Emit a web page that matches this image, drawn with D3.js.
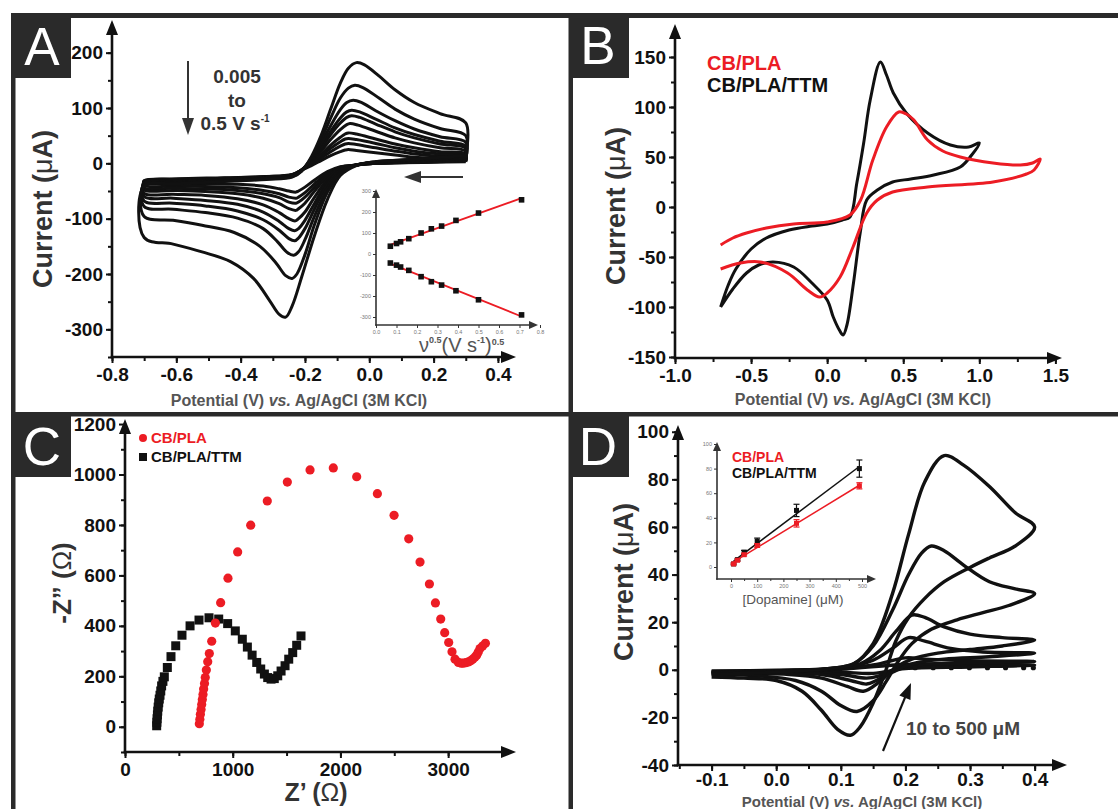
<!DOCTYPE html>
<html><head><meta charset="utf-8">
<script src="https://cdn.jsdelivr.net/npm/d3@7"></script>
<style>
body{margin:0;background:#fff;}
svg{display:block;}
text{font-family:"Liberation Sans",Arial,Helvetica,sans-serif;}
</style></head><body>
<svg id="fig" width="1118" height="809"></svg>
<script>
// ---------------- DATA ----------------
// Panel A: CVs at scan rates (V/s), points [E (V), I (uA)]
const scanRatesA = [0.005,0.01,0.015,0.025,0.05,0.075,0.1,0.15,0.25,0.5];
const cvA005 = [[0.30,3],[0.20,2],[0.10,1],[0.02,0],[-0.04,-3],[-0.09,-6],[-0.13,-15],[-0.17,-30],[-0.20,-43],[-0.22,-50],[-0.228,-52],[-0.25,-50],[-0.28,-46],[-0.33,-41],[-0.41,-38],[-0.51,-37],[-0.61,-36],[-0.70,-36],
 [-0.70,-31],[-0.60,-28],[-0.45,-26],[-0.32,-24],[-0.24,-20],[-0.21,-12],[-0.18,-4],[-0.15,5],[-0.12,14],[-0.09,21],[-0.075,24],[-0.065,25],[-0.04,23],[0.02,19],[0.08,15],[0.14,11],[0.22,9],[0.30,8],[0.30,3]];
const cvA010 = [[0.30,4],[0.20,3],[0.10,1],[0.02,0],[-0.04,-3],[-0.09,-7],[-0.13,-18],[-0.17,-37],[-0.20,-53],[-0.22,-61],[-0.228,-63],[-0.25,-61],[-0.28,-55],[-0.33,-49],[-0.41,-44],[-0.51,-42],[-0.61,-41],[-0.70,-40],
 [-0.70,-32],[-0.60,-29],[-0.45,-27],[-0.32,-24],[-0.24,-21],[-0.21,-12],[-0.18,-2],[-0.15,9],[-0.12,21],[-0.09,31],[-0.075,35],[-0.065,36],[-0.04,34],[0.02,28],[0.08,22],[0.14,17],[0.22,13],[0.30,11],[0.30,4]];
const cvA015 = [[0.30,5],[0.20,3],[0.10,2],[0.02,0],[-0.04,-3],[-0.09,-8],[-0.13,-21],[-0.17,-43],[-0.20,-61],[-0.22,-70],[-0.228,-72],[-0.25,-70],[-0.28,-62],[-0.33,-55],[-0.41,-49],[-0.51,-46],[-0.61,-45],[-0.70,-44],
 [-0.70,-33],[-0.60,-30],[-0.45,-27],[-0.32,-25],[-0.24,-21],[-0.21,-12],[-0.18,0],[-0.15,13],[-0.12,27],[-0.09,39],[-0.075,44],[-0.065,45],[-0.04,43],[0.02,36],[0.08,28],[0.14,22],[0.22,17],[0.30,14],[0.30,5]];
const cvA025 = [[0.30,6],[0.20,4],[0.10,2],[0.02,0],[-0.04,-3],[-0.09,-9],[-0.13,-24],[-0.17,-50],[-0.20,-72],[-0.22,-82],[-0.228,-85],[-0.25,-82],[-0.28,-73],[-0.33,-63],[-0.41,-55],[-0.51,-51],[-0.61,-49],[-0.70,-48],
 [-0.70,-34],[-0.60,-31],[-0.45,-28],[-0.32,-25],[-0.24,-21],[-0.21,-12],[-0.18,1],[-0.15,16],[-0.12,33],[-0.09,47],[-0.075,53],[-0.065,55],[-0.04,53],[0.02,44],[0.08,35],[0.14,28],[0.22,21],[0.30,17],[0.30,6]];
const cvA050 = [[0.30,7],[0.20,5],[0.10,3],[0.02,1],[-0.04,-3],[-0.09,-10],[-0.13,-29],[-0.17,-61],[-0.20,-88],[-0.22,-100],[-0.23,-104],[-0.25,-100],[-0.28,-89],[-0.33,-75],[-0.41,-64],[-0.51,-58],[-0.61,-56],[-0.70,-54],
 [-0.70,-35],[-0.60,-32],[-0.45,-29],[-0.32,-26],[-0.24,-22],[-0.21,-12],[-0.18,3],[-0.15,22],[-0.12,43],[-0.09,61],[-0.07,70],[-0.06,72],[-0.035,69],[0.02,58],[0.08,46],[0.14,37],[0.22,28],[0.30,22],[0.30,7]];
const cvA075 = [[0.30,8],[0.20,6],[0.10,4],[0.02,2],[-0.04,-3],[-0.09,-12],[-0.13,-34],[-0.17,-72],[-0.20,-103],[-0.22,-118],[-0.232,-122],[-0.25,-118],[-0.28,-105],[-0.33,-88],[-0.41,-74],[-0.51,-67],[-0.61,-63],[-0.70,-60],
 [-0.70,-36],[-0.60,-33],[-0.45,-30],[-0.32,-27],[-0.24,-23],[-0.21,-12],[-0.18,5],[-0.15,27],[-0.12,52],[-0.09,73],[-0.07,83],[-0.055,86],[-0.03,83],[0.02,71],[0.08,57],[0.14,46],[0.22,35],[0.30,27],[0.30,8]];
const cvA100 = [[0.30,9],[0.20,7],[0.10,4],[0.02,2],[-0.04,-3],[-0.09,-13],[-0.13,-38],[-0.17,-82],[-0.20,-118],[-0.22,-135],[-0.232,-140],[-0.25,-136],[-0.28,-121],[-0.33,-102],[-0.41,-86],[-0.51,-77],[-0.61,-72],[-0.70,-68],
 [-0.70,-37],[-0.60,-34],[-0.45,-30],[-0.32,-27],[-0.24,-23],[-0.21,-12],[-0.18,6],[-0.15,30],[-0.12,58],[-0.09,82],[-0.07,93],[-0.055,96],[-0.03,93],[0.02,80],[0.08,64],[0.14,52],[0.22,40],[0.30,31],[0.30,9]];
const cvA150 = [[0.30,10],[0.20,8],[0.10,5],[0.02,2],[-0.04,-3],[-0.09,-15],[-0.13,-45],[-0.17,-95],[-0.20,-138],[-0.22,-160],[-0.235,-166],[-0.255,-161],[-0.285,-142],[-0.33,-118],[-0.41,-99],[-0.51,-89],[-0.61,-83],[-0.70,-78],
 [-0.70,-38],[-0.60,-35],[-0.45,-31],[-0.32,-27],[-0.24,-23],[-0.21,-12],[-0.18,8],[-0.15,35],[-0.12,68],[-0.09,97],[-0.07,110],[-0.05,114],[-0.025,110],[0.02,95],[0.08,77],[0.14,62],[0.22,48],[0.30,38],[0.30,10]];
const cvA250 = [[0.30,12],[0.20,9],[0.10,6],[0.02,3],[-0.04,-3],[-0.09,-18],[-0.13,-52],[-0.17,-110],[-0.20,-165],[-0.225,-200],[-0.24,-208],[-0.26,-203],[-0.29,-180],[-0.34,-150],[-0.42,-125],[-0.52,-112],[-0.61,-103],[-0.70,-96],
 [-0.70,-40],[-0.60,-36],[-0.45,-32],[-0.32,-28],[-0.24,-24],[-0.21,-13],[-0.18,10],[-0.15,42],[-0.12,82],[-0.09,118],[-0.065,136],[-0.045,141],[-0.02,137],[0.03,118],[0.08,98],[0.14,80],[0.22,63],[0.30,50],[0.30,12]];
const cvA500 = [[0.30,14],[0.20,10],[0.10,6],[0.02,3],[-0.04,-4],[-0.09,-22],[-0.13,-65],[-0.17,-130],[-0.21,-205],[-0.24,-258],[-0.26,-278],[-0.28,-273],[-0.31,-248],[-0.36,-208],[-0.43,-178],[-0.52,-160],[-0.61,-146],[-0.70,-134],
 [-0.70,-42],[-0.60,-37],[-0.45,-33],[-0.32,-29],[-0.24,-25],[-0.21,-14],[-0.18,12],[-0.15,50],[-0.12,98],[-0.09,145],[-0.065,172],[-0.04,182],[-0.015,178],[0.03,158],[0.08,133],[0.14,110],[0.22,90],[0.30,73],[0.30,14]];
const cvA = [cvA005,cvA010,cvA015,cvA025,cvA050,cvA075,cvA100,cvA150,cvA250,cvA500];

// Panel A inset: peak current vs sqrt(scan rate)
const sqrtScanA = [0.07,0.10,0.12,0.16,0.22,0.27,0.32,0.39,0.50,0.71];
const ipaA = [37,50,58,73,100,120,133,160,195,258];
const ipcA = [-43,-53,-62,-78,-108,-132,-148,-175,-218,-290];

// Panel B: CVs
const cvB_PLA = [[-0.70,-38],[-0.62,-31],[-0.53,-26],[-0.40,-21],[-0.22,-17],[0.0,-15],[0.15,-8],[0.22,7],[0.30,47],[0.39,80],[0.47,95],[0.52,93],[0.57,87],[0.66,67],[0.76,56],[0.875,50],[1.09,44],[1.27,42],[1.35,44],[1.40,48],[1.36,37],[1.31,33],[1.09,25],[0.66,20],[0.43,15],[0.33,7],[0.26,-6],[0.17,-40],[0.085,-70],[0.0,-86],[-0.05,-90],[-0.13,-83],[-0.26,-66],[-0.44,-55],[-0.57,-56],[-0.70,-62]];
const cvB_TTM = [[-0.70,-100],[-0.65,-78],[-0.60,-62],[-0.50,-42],[-0.40,-31],[-0.25,-23],[-0.10,-19],[0.0,-17],[0.10,-13],[0.15,-10],[0.195,24],[0.24,64],[0.283,107],[0.35,145],[0.39,132],[0.435,114],[0.52,94],[0.66,74],[0.81,62],[0.93,60],[1.00,64],[0.95,52],[0.875,40],[0.70,32],[0.55,28],[0.43,25],[0.33,17],[0.26,7],[0.217,-26],[0.173,-76],[0.13,-118],[0.105,-128],[0.08,-123],[0.04,-110],[0.0,-93],[-0.1,-76],[-0.22,-60],[-0.355,-55],[-0.45,-58],[-0.53,-66],[-0.62,-82],[-0.70,-100]];

// Panel C: Nyquist plots [Z' (ohm), -Z'' (ohm)]
const nyqPLA = [[690,12],[695,30],[700,50],[706,68],[712,88],[718,108],[724,128],[730,150],[738,172],[745,195],[755,225],[768,258],[783,290],[805,339],[839,411],[888,492],[956,589],[1046,693],[1167,799],[1321,895],[1507,970],[1718,1018],[1934,1026],[2151,991],[2343,924],[2498,838],[2634,745],[2739,653],[2826,566],[2882,491],[2931,427],[2968,373],[3005,334],[3036,297],[3064,268],[3095,255],[3120,252],[3141,252],[3165,254],[3188,257],[3210,262],[3228,268],[3248,276],[3265,284],[3280,296],[3296,310],[3320,320],[3346,331]];
const nyqTTM = [[294,4],[296,18],[298,32],[301,47],[304,62],[308,78],[313,95],[318,110],[325,125],[332,142],[340,162],[352,180],[365,198],[393,235],[427,278],[471,321],[529,363],[604,400],[687,423],[780,432],[870,427],[953,409],[1024,380],[1089,347],[1136,316],[1180,284],[1223,255],[1260,229],[1294,209],[1325,195],[1356,189],[1386,191],[1418,202],[1449,221],[1486,242],[1520,268],[1557,294],[1594,323],[1634,360]];

// Panel D: CVs for dopamine concentrations (uM)
const concD = [10,25,50,100,250,500];
const cvD010 = [[-0.10,-0.5],[0.0,-0.2],[0.1,0.3],[0.2,2.2],[0.3,2.2],[0.40,2],[0.3,1.2],[0.2,0.5],[0.15,-1.5],[0.1,-1],[0.0,-0.6],[-0.10,-0.6]];
const cvD025 = [[-0.10,-0.8],[0.05,0],[0.15,2],[0.2,5],[0.23,4.5],[0.3,3.8],[0.40,3.5],[0.3,2.8],[0.2,1.5],[0.16,-2.5],[0.14,-3.5],[0.1,-2],[0.0,-1],[-0.10,-0.8]];
const cvD050 = [[-0.10,-1],[0.0,-0.4],[0.1,0.5],[0.15,4],[0.18,9],[0.205,13.5],[0.23,12],[0.27,9],[0.32,7.5],[0.40,7],[0.33,5.5],[0.26,4.5],[0.21,2.5],[0.18,-1],[0.155,-4.5],[0.14,-6],[0.115,-4.5],[0.07,-2],[-0.10,-1]];
const cvD100 = [[-0.10,-1.2],[0.0,-0.6],[0.08,0.3],[0.13,2.5],[0.16,8],[0.185,16],[0.21,23],[0.23,22],[0.26,18],[0.3,15],[0.35,13.5],[0.40,12.5],[0.35,10],[0.30,8.5],[0.25,7],[0.21,4.5],[0.185,1],[0.16,-5],[0.135,-9],[0.11,-7],[0.07,-3.5],[0.02,-2],[-0.10,-1.5]];
const cvD250 = [[-0.10,-1.5],[0.00,-0.8],[0.08,0.5],[0.12,2.5],[0.15,10],[0.18,25],[0.205,40],[0.225,49],[0.24,52],[0.26,50],[0.29,44],[0.33,37],[0.37,34],[0.40,32],[0.36,27],[0.32,24],[0.28,21],[0.24,17],[0.21,11],[0.19,4],[0.17,-5],[0.15,-13],[0.125,-17.5],[0.10,-15],[0.07,-9],[0.03,-4.5],[-0.03,-2.5],[-0.10,-2]];
const cvD500 = [[-0.10,-2],[0.00,-1],[0.08,0.5],[0.12,2.5],[0.15,11],[0.18,32],[0.205,57],[0.23,79],[0.26,90],[0.29,86],[0.33,77],[0.37,66],[0.40,60],[0.37,52],[0.33,47],[0.30,43],[0.26,37],[0.23,30],[0.205,22],[0.185,12],[0.17,0],[0.15,-14],[0.13,-24],[0.115,-27.5],[0.095,-25],[0.07,-17],[0.04,-9],[0.0,-4.5],[-0.05,-3.5],[-0.10,-3]];
const cvD = [cvD010,cvD025,cvD050,cvD100,cvD250,cvD500];
const blankDotsE = [0.215,0.243,0.271,0.299,0.327,0.355,0.383,0.398];
const blankDotsI = [0.9,0.9,0.9,0.9,0.9,0.9,0.9,0.9];

// Panel D inset: calibration
const calConc = [10,25,50,100,250,490];
const calTTM = [2.5,6,12,21,46,80];
const calTTMerr = [0.8,1,1.5,2.5,5,7];
const calPLA = [2.5,5.5,10,17.5,35.5,66];
const calPLAerr = [0.5,0.8,1,1.5,3,2.5];

// tick values
const ticksAx = [-0.8,-0.6,-0.4,-0.2,0.0,0.2,0.4], ticksAy = [-300,-200,-100,0,100,200];
const ticksBx = [-1.0,-0.5,0.0,0.5,1.0,1.5], ticksBy = [-150,-100,-50,0,50,100,150];
const ticksCx = [0,1000,2000,3000], ticksCy = [0,200,400,600,800,1000,1200];
const ticksDx = [-0.1,0.0,0.1,0.2,0.3,0.4], ticksDy = [-40,-20,0,20,40,60,80,100];

// ---------------- DRAW ----------------
const svg = d3.select('#fig');
const RED = '#ec1c24', INK = '#111';

function arrow(g, x1, y1, x2, y2, len, hw, color, sw) {
  const a = Math.atan2(y2 - y1, x2 - x1);
  const bx = x2 - len * Math.cos(a), by = y2 - len * Math.sin(a);
  g.append('line').attr('x1', x1).attr('y1', y1).attr('x2', bx + Math.cos(a)).attr('y2', by + Math.sin(a))
    .attr('stroke', color).attr('stroke-width', sw);
  const px = -Math.sin(a) * hw, py = Math.cos(a) * hw;
  g.append('path').attr('d', `M${x2},${y2}L${bx + px},${by + py}L${bx - px},${by - py}Z`).attr('fill', color);
}

function axes(g, x, y, o) {
  const fmtX = o.xFmt, fmtY = o.yFmt;
  const style = sel => {
    sel.select('.domain').remove();
    sel.selectAll('line').attr('stroke', o.color).attr('stroke-width', o.tsw);
    sel.selectAll('text').attr('fill', o.lab).style('font-size', o.fs + 'px').style('font-weight', o.fw)
      .style('font-family', '"Liberation Sans",Arial,sans-serif');
  };
  const y0 = o.y0, x0 = o.x0;
  style(g.append('g').attr('transform', `translate(0,${y0})`)
    .call(d3.axisBottom(x).tickValues(o.xMinor).tickFormat('').tickSize(o.mt)));
  style(g.append('g').attr('transform', `translate(0,${y0})`)
    .call(d3.axisBottom(x).tickValues(o.xMajor).tickFormat(fmtX).tickSize(o.t).tickPadding(o.xpad)));
  style(g.append('g').attr('transform', `translate(${x0},0)`)
    .call(d3.axisLeft(y).tickValues(o.yMinor).tickFormat('').tickSize(o.mt)));
  style(g.append('g').attr('transform', `translate(${x0},0)`)
    .call(d3.axisLeft(y).tickValues(o.yMajor).tickFormat(fmtY).tickSize(o.t).tickPadding(o.ypad)));
  arrow(g, x0 - o.sw / 2, y0, o.xEnd, y0, o.al, o.ah, o.color, o.sw);
  arrow(g, x0, y0 + o.sw / 2, x0, o.yEnd, o.al, o.ah, o.color, o.sw);
}
const rng = (a, b, s) => d3.range(a, b + s / 2, s);
const f1 = d => d.toFixed(1), f0 = d => String(d);

const bigAx = {color: INK, lab: INK, tsw: 2, sw: 2.6, t: 6, mt: 4, fs: 19, fw: 'bold', xpad: 5, ypad: 3, al: 15, ah: 6};

// ---------- frames ----------
const FR = '#2a2a2a';
const frame = svg.append('g');
frame.append('rect').attr('x', 11).attr('y', 13).attr('width', 1107).attr('height', 5).attr('fill', FR);
frame.append('rect').attr('x', 11).attr('y', 13).attr('width', 4.5).attr('height', 796).attr('fill', FR);
frame.append('rect').attr('x', 568.5).attr('y', 13).attr('width', 4.5).attr('height', 796).attr('fill', FR);
frame.append('rect').attr('x', 11).attr('y', 412).attr('width', 1107).attr('height', 4.5).attr('fill', FR);
[[11, 13, 'A', 42, 65], [569, 13, 'B', 598, 64], [11, 412, 'C', 42, 465], [569, 412, 'D', 598, 465]].forEach(([bx, by, L, tx, ty]) => {
  frame.append('rect').attr('x', bx).attr('y', by).attr('width', 60).attr('height', 65).attr('fill', FR);
  frame.append('text').attr('x', tx).attr('y', ty).attr('text-anchor', 'middle').attr('fill', '#fff')
    .style('font-size', '53px').style('font-weight', 'normal').text(L);
});

function xTitle(g, cx, by, fill, fs) {
  const t = g.append('text').attr('x', cx).attr('y', by).attr('text-anchor', 'middle').attr('fill', fill || '#555')
    .style('font-size', (fs || 16) + 'px').style('font-weight', 'bold');
  t.append('tspan').text('Potential (V) ');
  t.append('tspan').style('font-style', 'italic').text('vs.');
  t.append('tspan').text(' Ag/AgCl (3M KCl)');
}
function yTitle(g, cx, cy, parts, fs) {
  const t = g.append('text').attr('transform', `translate(${cx},${cy}) rotate(-90)`).attr('text-anchor', 'middle')
    .attr('dy', '0.35em').attr('fill', '#333').style('font-size', fs + 'px').style('font-weight', 'bold');
  parts.forEach(([s, w]) => t.append('tspan').style('font-weight', w).text(s));
}

// ---------- Panel A ----------
const gA = svg.append('g');
const xA = d3.scaleLinear().domain([-0.8, 0.45]).range([112, 514]);
const yA = d3.scaleLinear().domain([-350, 250]).range([357, 25]);
axes(gA, xA, yA, Object.assign({}, bigAx, {xMajor: ticksAx, xMinor: rng(-0.8, 0.4, 0.1), yMajor: ticksAy, yMinor: rng(-350, 200, 50),
  xFmt: f1, yFmt: f0, x0: 112, y0: 357, xEnd: 516, yEnd: 20}));
const lineA = d3.line().x(d => xA(d[0])).y(d => yA(d[1])).curve(d3.curveCatmullRom.alpha(0.5));
gA.append('g').selectAll('path').data(cvA).join('path').attr('d', lineA)
  .attr('fill', 'none').attr('stroke', INK).attr('stroke-width', 3).attr('stroke-linejoin', 'round');
yTitle(gA, 43, 209, [['Current (', 'bold'], ['μ', 'normal'], ['A)', 'bold']], 27);
xTitle(gA, 299, 406);
const annA = gA.append('g').attr('fill', '#333').style('font-weight', 'bold').style('font-size', '19px');
annA.append('text').attr('x', 237).attr('y', 83).attr('text-anchor', 'middle').text('0.005');
annA.append('text').attr('x', 237).attr('y', 107).attr('text-anchor', 'middle').text('to');
const t05 = annA.append('text').attr('x', 235).attr('y', 130).attr('text-anchor', 'middle');
t05.append('tspan').text('0.5 V s');
t05.append('tspan').attr('dy', -8).style('font-size', '10px').text('-1');
arrow(gA, 188, 61, 188, 135, 17, 6, '#333', 2);
arrow(gA, 463, 177, 404, 177, 17, 6, '#333', 2);

// Panel A inset
const gAi = svg.append('g');
const xAi = d3.scaleLinear().domain([0, 0.8]).range([376, 540]);
const yAi = d3.scaleLinear().domain([-300, 300]).range([317, 191]);
axes(gAi, xAi, yAi, {color: '#333', lab: '#777', tsw: 1, sw: 1.6, t: 3, mt: 0, fs: 5.5, fw: 'normal', xpad: 2, ypad: 2, al: 9, ah: 4,
  xMajor: rng(0, 0.8, 0.1), xMinor: [], yMajor: rng(-300, 300, 100), yMinor: [], xFmt: f1, yFmt: f0,
  x0: 376, y0: 325, xEnd: 538, yEnd: 189});
function fitLine(xs, ys) {
  const mx = d3.mean(xs), my = d3.mean(ys);
  const b = d3.sum(xs, (x, i) => (x - mx) * (ys[i] - my)) / d3.sum(xs, x => (x - mx) * (x - mx));
  return x => my + b * (x - mx);
}
[ipaA, ipcA].forEach(ys => {
  const f = fitLine(sqrtScanA, ys);
  const ex = d3.extent(sqrtScanA);
  gAi.append('line').attr('x1', xAi(ex[0])).attr('y1', yAi(f(ex[0]))).attr('x2', xAi(ex[1])).attr('y2', yAi(f(ex[1])))
    .attr('stroke', RED).attr('stroke-width', 1.8);
  gAi.append('g').selectAll('rect').data(ys).join('rect')
    .attr('x', (d, i) => xAi(sqrtScanA[i]) - 2.8).attr('y', d => yAi(d) - 2.8).attr('width', 5.6).attr('height', 5.6).attr('fill', INK);
});
const tAi = gAi.append('text').attr('x', 419).attr('y', 352).attr('fill', '#555').style('font-size', '20px');
tAi.append('tspan').text('ν');
tAi.append('tspan').attr('dy', -9).style('font-size', '9px').style('font-weight', 'bold').text('0.5');
tAi.append('tspan').attr('dy', 9).text('(V s');
tAi.append('tspan').attr('dy', -9).style('font-size', '9px').style('font-weight', 'bold').text('-1');
tAi.append('tspan').attr('dy', 9).text(')');
tAi.append('tspan').attr('dy', -7).style('font-size', '9px').style('font-weight', 'bold').text('0.5');

// ---------- Panel B ----------
const gB = svg.append('g');
const xB = d3.scaleLinear().domain([-1.0, 1.55]).range([675, 1063]);
const yB = d3.scaleLinear().domain([-150, 180]).range([357, 27]);
axes(gB, xB, yB, Object.assign({}, bigAx, {xMajor: ticksBx, xMinor: rng(-1.0, 1.5, 0.25), yMajor: ticksBy, yMinor: rng(-150, 150, 25),
  xFmt: f1, yFmt: f0, x0: 675, y0: 358, xEnd: 1062, yEnd: 24}));
const lineB = d3.line().x(d => xB(d[0])).y(d => yB(d[1])).curve(d3.curveCatmullRom.alpha(0.5));
gB.append('path').attr('d', lineB(cvB_TTM)).attr('fill', 'none').attr('stroke', INK).attr('stroke-width', 3).attr('stroke-linejoin', 'round');
gB.append('path').attr('d', lineB(cvB_PLA)).attr('fill', 'none').attr('stroke', RED).attr('stroke-width', 3).attr('stroke-linejoin', 'round');
yTitle(gB, 616, 206, [['Current (', 'bold'], ['μ', 'normal'], ['A)', 'bold']], 27);
xTitle(gB, 863, 405);
gB.append('text').attr('x', 707).attr('y', 70).attr('fill', RED).style('font-size', '20px').style('font-weight', 'bold').text('CB/PLA');
gB.append('text').attr('x', 707).attr('y', 92).attr('fill', INK).style('font-size', '20px').style('font-weight', 'bold').text('CB/PLA/TTM');

// ---------- Panel C ----------
const gC = svg.append('g');
const xC = d3.scaleLinear().domain([0, 3630]).range([125, 516]);
const yC = d3.scaleLinear().domain([-100, 1220]).range([752, 419]);
axes(gC, xC, yC, Object.assign({}, bigAx, {xMajor: ticksCx, xMinor: rng(0, 3500, 500), yMajor: ticksCy, yMinor: rng(-100, 1100, 100),
  xFmt: f0, yFmt: f0, x0: 125, y0: 752, xEnd: 516, yEnd: 419}));
gC.append('g').selectAll('rect').data(nyqTTM).join('rect')
  .attr('x', d => xC(d[0]) - 4.5).attr('y', d => yC(d[1]) - 4.5).attr('width', 9).attr('height', 9).attr('fill', INK);
gC.append('g').selectAll('circle').data(nyqPLA).join('circle')
  .attr('cx', d => xC(d[0])).attr('cy', d => yC(d[1])).attr('r', 4.6).attr('fill', RED);
yTitle(gC, 62, 583, [['-Z” (', 'bold'], ['Ω', 'normal'], [')', 'bold']], 26);
const tCx = gC.append('text').attr('x', 316).attr('y', 801).attr('text-anchor', 'middle').attr('fill', '#333')
  .style('font-size', '25px').style('font-weight', 'bold');
tCx.append('tspan').text('Z’ (');
tCx.append('tspan').style('font-weight', 'normal').text('Ω');
tCx.append('tspan').text(')');
gC.append('circle').attr('cx', 143).attr('cy', 438).attr('r', 4).attr('fill', RED);
gC.append('rect').attr('x', 139).attr('y', 453).attr('width', 8).attr('height', 8).attr('fill', INK);
gC.append('text').attr('x', 151).attr('y', 443).attr('fill', RED).style('font-size', '15px').style('font-weight', 'bold').text('CB/PLA');
gC.append('text').attr('x', 151).attr('y', 462).attr('fill', INK).style('font-size', '15px').style('font-weight', 'bold').text('CB/PLA/TTM');

// ---------- Panel D ----------
const gD = svg.append('g');
const xD = d3.scaleLinear().domain([-0.152, 0.447]).range([678, 1065]);
const yD = d3.scaleLinear().domain([-40, 102]).range([765, 427]);
axes(gD, xD, yD, Object.assign({}, bigAx, {xMajor: ticksDx, xMinor: rng(-0.15, 0.4, 0.05), yMajor: ticksDy, yMinor: rng(-40, 100, 10),
  xFmt: f1, yFmt: f0, x0: 678, y0: 765, xEnd: 1067, yEnd: 425, xpad: 2}));
const lineD = d3.line().x(d => xD(d[0])).y(d => yD(d[1])).curve(d3.curveCatmullRom.alpha(0.5));
gD.append('g').selectAll('path').data(cvD).join('path').attr('d', lineD)
  .attr('fill', 'none').attr('stroke', INK).attr('stroke-width', 3.4).attr('stroke-linejoin', 'round');
gD.append('g').selectAll('circle').data(blankDotsE).join('circle')
  .attr('cx', d => xD(d)).attr('cy', (d, i) => yD(blankDotsI[i])).attr('r', 2.6).attr('fill', INK);
yTitle(gD, 624, 582, [['Current (', 'bold'], ['μ', 'normal'], ['A)', 'bold']], 27);
xTitle(gD, 862, 807, '#555', 15);
gD.append('text').attr('x', 963).attr('y', 735).attr('text-anchor', 'middle').attr('fill', '#444')
  .style('font-size', '19px').style('font-weight', 'bold').text('10 to 500 μM');
arrow(gD, 883, 751, 911, 683, 16, 6, INK, 2.2);

// Panel D inset
const gDi = svg.append('g');
const xDi = d3.scaleLinear().domain([0, 500]).range([731, 862]);
const yDi = d3.scaleLinear().domain([0, 100]).range([567, 444]);
axes(gDi, xDi, yDi, {color: '#333', lab: '#777', tsw: 1, sw: 1.6, t: 3, mt: 2, fs: 5.5, fw: 'normal', xpad: 2, ypad: 2, al: 9, ah: 4,
  xMajor: rng(0, 500, 100), xMinor: rng(50, 450, 100), yMajor: rng(0, 100, 20), yMinor: [], xFmt: f0, yFmt: f0,
  x0: 717, y0: 579, xEnd: 876, yEnd: 442});
[[calTTM, calTTMerr, INK], [calPLA, calPLAerr, RED]].forEach(([ys, es, c]) => {
  const f = fitLine(calConc, ys);
  const ex = d3.extent(calConc);
  gDi.append('line').attr('x1', xDi(ex[0])).attr('y1', yDi(f(ex[0]))).attr('x2', xDi(ex[1])).attr('y2', yDi(f(ex[1])))
    .attr('stroke', c).attr('stroke-width', 1.5);
  const eg = gDi.append('g').attr('stroke', c).attr('stroke-width', 1.2);
  ys.forEach((v, i) => {
    const cx = xDi(calConc[i]);
    eg.append('line').attr('x1', cx).attr('x2', cx).attr('y1', yDi(v - es[i])).attr('y2', yDi(v + es[i]));
    eg.append('line').attr('x1', cx - 3).attr('x2', cx + 3).attr('y1', yDi(v - es[i])).attr('y2', yDi(v - es[i]));
    eg.append('line').attr('x1', cx - 3).attr('x2', cx + 3).attr('y1', yDi(v + es[i])).attr('y2', yDi(v + es[i]));
  });
  gDi.append('g').selectAll('rect').data(ys).join('rect')
    .attr('x', (d, i) => xDi(calConc[i]) - 2.5).attr('y', d => yDi(d) - 2.5).attr('width', 5).attr('height', 5).attr('fill', c);
});
gDi.append('text').attr('x', 793).attr('y', 604).attr('text-anchor', 'middle').attr('fill', '#555')
  .style('font-size', '13.5px').text('[Dopamine] (μM)');
gDi.append('text').attr('x', 732).attr('y', 462).attr('fill', RED).style('font-size', '14px').style('font-weight', 'bold').text('CB/PLA');
gDi.append('text').attr('x', 732).attr('y', 478).attr('fill', INK).style('font-size', '14px').style('font-weight', 'bold').text('CB/PLA/TTM');
</script></body></html>
